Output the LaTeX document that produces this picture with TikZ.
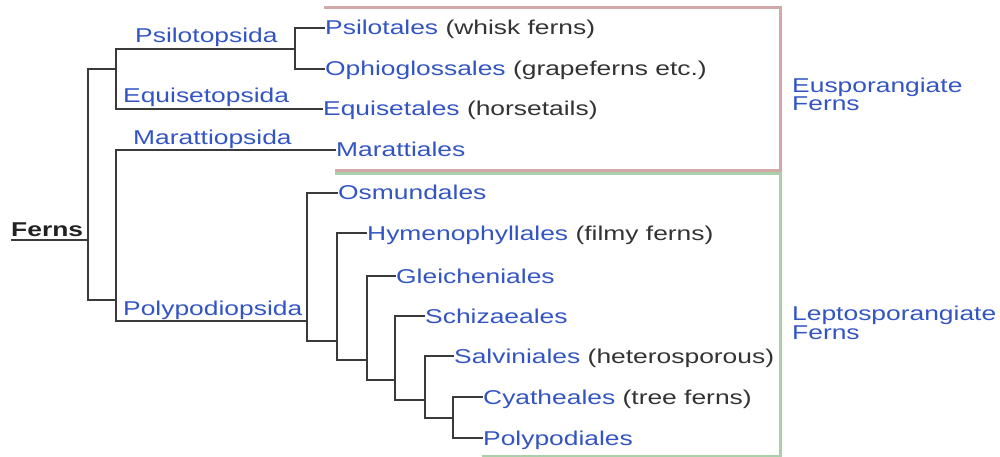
\documentclass[tikz,border=0pt]{standalone}
\usepackage{fontspec}
\setmainfont[FakeStretch=1.32]{Liberation Sans}
\definecolor{lnk}{HTML}{3355C4}
\definecolor{txt}{HTML}{333333}
\definecolor{treec}{HTML}{3A3A3A}
\definecolor{pinkb}{HTML}{D2A9A9}
\definecolor{greenb}{HTML}{AACFAA}
\begin{document}
\begin{tikzpicture}[x=1pt,y=-1pt,
  taxfont/.style={font=\fontsize{20}{17}\selectfont},
  leaf/.style={taxfont, anchor=west, inner sep=0pt, text height=14pt, text depth=0pt, text=lnk},
  clade/.style={taxfont, anchor=base west, inner sep=0pt, text=lnk},
  grp/.style={taxfont, anchor=base west, inner sep=0pt, text=lnk, align=left},
  branch/.style={draw=treec, line width=1.6pt},
  bracketline/.style={line width=3pt}]
\useasboundingbox (0,0) rectangle (1000,457);

% group brackets
\draw[bracketline, draw=pinkb] (324,8) -- (780,8) -- (780,171) -- (335,171);
\draw[bracketline, draw=greenb] (335,174) -- (780,174) -- (780,456) -- (482,456);

% leaves
\node[leaf] (psilot) at (325,28) {Psilotales {\color{txt}(whisk ferns)}};
\node[leaf] (ophio) at (325,69) {Ophioglossales {\color{txt}(grapeferns etc.)}};
\node[leaf] (equis) at (323,109) {Equisetales {\color{txt}(horsetails)}};
\node[leaf] (maratt) at (336,150) {Marattiales};
\node[leaf] (osm) at (338,193) {Osmundales};
\node[leaf] (hym) at (367,233) {Hymenophyllales {\color{txt}(filmy ferns)}};
\node[leaf] (gle) at (396,276) {Gleicheniales};
\node[leaf] (sch) at (425,316) {Schizaeales};
\node[leaf] (sal) at (454,356) {Salviniales {\color{txt}(heterosporous)}};
\node[leaf] (cya) at (483,397) {Cyatheales {\color{txt}(tree ferns)}};
\node[leaf] (polyd) at (483,438) {Polypodiales};

% clade labels
\node[clade] (psilopsida) at (135,43) {Psilotopsida};
\node[clade] (equipsida) at (123,103) {Equisetopsida};
\node[clade] (marpsida) at (133,145) {Marattiopsida};
\node[clade] (polypsida) at (123,315) {Polypodiopsida};
\node[taxfont, anchor=base west, inner sep=0pt, text=black!87, font=\fontsize{20}{17}\selectfont\bfseries] (ferns) at (11,236) {Ferns};

% group labels (base anchor = last line's baseline)
\node[grp] (euspo) at (792,111) {Eusporangiate\\Ferns};
\node[grp] (lepto) at (792,339) {Leptosporangiate\\Ferns};

% junctions
\coordinate (r0) at (11,240);
\coordinate (n1) at (88,240);
\coordinate (n2) at (116,69);
\coordinate (n3) at (116,300);
\coordinate (n4) at (295,49);
\coordinate (n5) at (307,321);
\coordinate (n6) at (337,341);
\coordinate (n7) at (367,360);
\coordinate (n8) at (395,380);
\coordinate (n9) at (425,400);
\coordinate (n10) at (453,418);

% tree
\draw[branch] (r0) -- (n1);
\draw[branch] (n1) |- (n2);
\draw[branch] (n1) |- (n3);
\draw[branch] (n2) |- (n4);
\draw[branch] (n2) |- (equis.west);
\draw[branch] (n4) |- (psilot.west);
\draw[branch] (n4) |- (ophio.west);
\draw[branch] (n3) |- (maratt.west);
\draw[branch] (n3) |- (n5);
\draw[branch] (n5) |- (osm.west);
\draw[branch] (n5) |- (n6);
\draw[branch] (n6) |- (hym.west);
\draw[branch] (n6) |- (n7);
\draw[branch] (n7) |- (gle.west);
\draw[branch] (n7) |- (n8);
\draw[branch] (n8) |- (sch.west);
\draw[branch] (n8) |- (n9);
\draw[branch] (n9) |- (sal.west);
\draw[branch] (n9) |- (n10);
\draw[branch] (n10) |- (cya.west);
\draw[branch] (n10) |- (polyd.west);
\end{tikzpicture}
\end{document}
